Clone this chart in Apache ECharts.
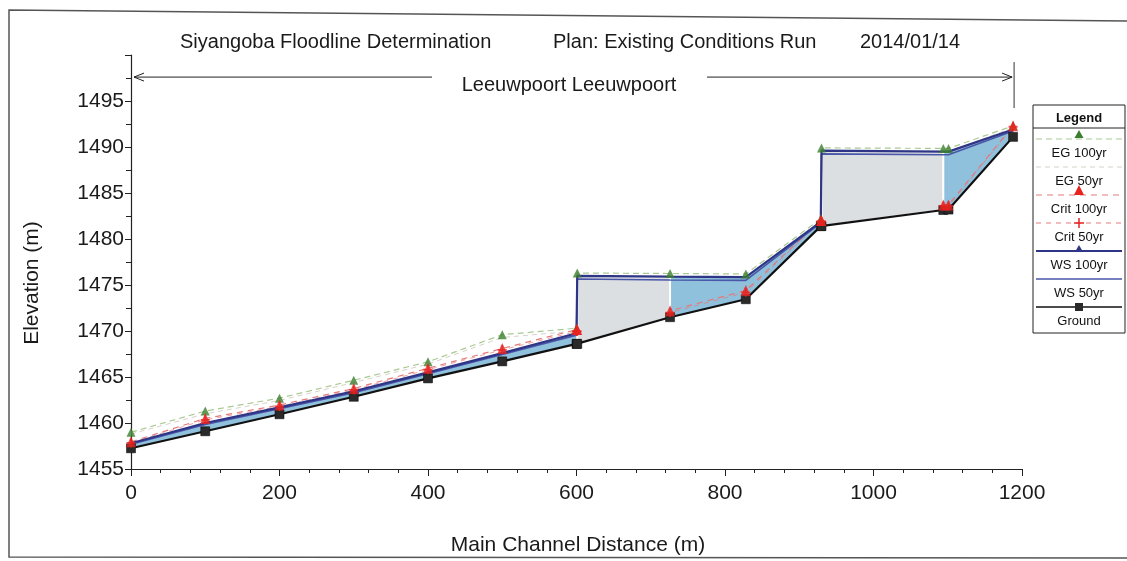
<!DOCTYPE html>
<html>
<head>
<meta charset="utf-8">
<script src="https://cdn.jsdelivr.net/npm/echarts@6/dist/echarts.min.js"></script>
<style>html,body{margin:0;padding:0;background:#fff;}#c{width:1127px;height:561px;}</style>
</head>
<body>
<div id="c"></div>
<script>
// ---- data (main channel distance in m, elevations in m) ----
const stations = [0, 100, 200, 300, 400, 500, 600, 601, 726, 828, 929, 930, 1094, 1101, 1188];
const ground   = [1457.25, 1459.1, 1460.95, 1462.85, 1464.85, 1466.7, 1468.6, 1468.6, 1471.5, 1473.45, 1481.4, 1481.4, 1483.15, 1483.2, 1491.1];
const ws100    = [1457.8, 1460.0, 1461.7, 1463.45, 1465.5, 1467.6, 1469.75, 1476.0, 1475.9, 1475.85, 1481.85, 1489.6, 1489.5, 1489.5, 1491.9];
const ws50     = [1457.7, 1459.85, 1461.55, 1463.3, 1465.35, 1467.45, 1469.55, 1475.65, 1475.55, 1475.5, 1481.75, 1489.25, 1489.15, 1489.15, 1491.75];
const eg100    = [1459.0, 1461.3, 1462.7, 1464.65, 1466.65, 1469.6, 1470.3, 1476.3, 1476.25, 1476.2, 1482.2, 1489.9, 1489.85, 1489.85, 1492.3];
const eg50     = [1458.8, 1461.0, 1462.45, 1464.4, 1466.4, 1469.3, 1470.0, 1475.95, 1475.9, 1475.85, 1482.0, 1489.55, 1489.5, 1489.5, 1492.1];
const crit100  = [1457.95, 1460.5, 1461.95, 1463.75, 1465.95, 1468.1, 1470.15, 1470.15, 1472.2, 1474.4, 1482.0, 1482.0, 1483.7, 1483.7, 1492.3];
const crit50   = [1457.85, 1460.35, 1461.8, 1463.6, 1465.8, 1467.95, 1469.95, 1469.95, 1472.0, 1474.2, 1481.9, 1481.9, 1483.6, 1483.6, 1492.2];
const structures = [[601, 726], [930, 1094]];   // station ranges of the structure (grey) reaches
const xTicks = [0, 200, 400, 600, 800, 1000, 1200];
const yTicks = [1455, 1460, 1465, 1470, 1475, 1480, 1485, 1490, 1495];
const legendNames = ['EG 100yr', 'EG 50yr', 'Crit 100yr', 'Crit 50yr', 'WS 100yr', 'WS 50yr', 'Ground'];
const reachName = 'Leeuwpoort Leeuwpoort';
const titleParts = ['Siyangoba Floodline Determination', 'Plan: Existing Conditions Run', '2014/01/14'];

// ---- styles ----
const FONT = 'Liberation Sans, Arial, sans-serif';
const C = {
  water: '#8fc0dc', struct: '#dcdfe1', ws: '#2f3586', ws50: '#4a56a8',
  ground: '#111', sq: '#2a2a2a', egG: '#3c7f2e', egLine: '#a9c993', eg50Line: '#d6d2c8',
  crit: '#e8231f', critLine: '#e37a7a'
};

const pairs = a => stations.map((s, i) => [s, a[i]]);
const segs = [];
for (let i = 0; i < stations.length - 1; i++) {
  segs.push([stations[i], ground[i], ws100[i], stations[i + 1], ground[i + 1], ws100[i + 1]]);
}
const inStruct = s => structures.some(r => s[0] >= r[0] && s[3] <= r[1]);
const structSegs = segs.filter(inStruct);

function polyRender(fill, stroke, lw) {
  return function (params, api) {
    const pts = [
      api.coord([api.value(0), api.value(1)]),
      api.coord([api.value(0), api.value(2)]),
      api.coord([api.value(3), api.value(5)]),
      api.coord([api.value(3), api.value(4)])
    ];
    return { type: 'polygon', shape: { points: pts }, style: { fill: fill, stroke: stroke, lineWidth: lw } };
  };
}

const chart = echarts.init(document.getElementById('c'), null, { renderer: 'canvas' });

const lineBase = { type: 'line', showSymbol: false, symbol: 'none', silent: true, animation: false };
const plusPath = 'path://M4,0L6,0L6,4L10,4L10,6L6,6L6,10L4,10L4,6L0,6L0,4L4,4Z';
const triPath = 'triangle';

const option = {
  animation: false,
  backgroundColor: '#fff',
  grid: { left: 131, right: 105, top: 55, bottom: 92, containLabel: false },
  xAxis: {
    type: 'value', min: xTicks[0], max: xTicks[xTicks.length - 1], interval: 200,
    axisLine: { show: true, lineStyle: { color: '#222', width: 1.2 } },
    axisTick: { show: true, length: 7, lineStyle: { color: '#222' } },
    minorTick: { show: true, splitNumber: 5, length: 4, lineStyle: { color: '#222' } },
    splitLine: { show: false },
    axisLabel: { fontFamily: FONT, fontSize: 21, color: '#1a1a1a', margin: 14,
      formatter: v => (xTicks.indexOf(v) >= 0 ? String(v) : '') }
  },
  yAxis: {
    type: 'value', min: 1455, max: 1500, interval: 5,
    axisLine: { show: true, lineStyle: { color: '#222', width: 1.2 } },
    axisTick: { show: true, length: 6, lineStyle: { color: '#222' } },
    minorTick: { show: true, splitNumber: 2, length: 5, lineStyle: { color: '#222' } },
    splitLine: { show: false },
    axisLabel: {
      fontFamily: FONT, fontSize: 21, color: '#1a1a1a', margin: 7,
      formatter: v => (yTicks.indexOf(v) >= 0 ? String(v) : '')
    }
  },
  series: [
    { type: 'custom', name: 'water', z: 1, silent: true, data: segs,
      encode: { x: [0, 3], y: [1, 2, 4, 5] }, renderItem: polyRender(C.water, C.water, 0.6) },
    Object.assign({}, lineBase, { name: 'EG 50yr', z: 2, data: pairs(eg50),
      lineStyle: { color: C.eg50Line, width: 1, type: [5, 4] } }),
    Object.assign({}, lineBase, { name: 'EG 100yr', z: 2, data: pairs(eg100),
      lineStyle: { color: C.egLine, width: 1.2, type: [6, 4] } }),
    Object.assign({}, lineBase, { name: 'Crit 50yr', z: 2, data: pairs(crit50),
      lineStyle: { color: C.critLine, width: 1, type: [5, 5], opacity: 0.7 } }),
    Object.assign({}, lineBase, { name: 'Crit 100yr', z: 2, data: pairs(crit100),
      lineStyle: { color: C.critLine, width: 1.2, type: [6, 5] } }),
    { type: 'custom', name: 'structure', z: 3, silent: true, data: structSegs,
      encode: { x: [0, 3], y: [1, 2, 4, 5] }, renderItem: polyRender(C.struct, '#ffffff', 2) },
    Object.assign({}, lineBase, { name: 'WS 50yr', z: 4, data: pairs(ws50),
      lineStyle: { color: C.ws50, width: 1.6 } }),
    Object.assign({}, lineBase, { name: 'WS 100yr', z: 4, data: pairs(ws100),
      lineStyle: { color: C.ws, width: 2.2 } }),
    { type: 'line', name: 'Ground', z: 5, data: pairs(ground), silent: true,
      symbol: 'rect', symbolSize: 9, showSymbol: true, showAllSymbol: true,
      itemStyle: { color: C.sq, borderColor: '#000', borderWidth: 0.5 },
      lineStyle: { color: C.ground, width: 2.2 } },
    { type: 'scatter', name: 'EG 100yr pts', z: 6, silent: true, data: pairs(eg100),
      symbol: triPath, symbolSize: [9, 9], itemStyle: { color: C.egG } },
    { type: 'scatter', name: 'Crit 50yr pts', z: 7, silent: true, data: pairs(crit50),
      symbol: plusPath, symbolSize: 9, itemStyle: { color: C.crit } },
    { type: 'scatter', name: 'Crit 100yr pts', z: 8, silent: true, data: pairs(crit100),
      symbol: triPath, symbolSize: [10, 11], itemStyle: { color: C.crit } }
  ]
};
chart.setOption(option);

// ---- decorations: page frame, titles, reach arrow, legend box ----
const g = [];
g.push({ type: 'polyline', silent: true, shape: { points: [[1127, 21], [9, 10], [9, 557], [1127, 558]] },
  style: { stroke: '#555', lineWidth: 1.5, fill: null } });
const titleX = [180, 553, 860];
titleParts.forEach((t, i) => g.push({ type: 'text', x: titleX[i], y: 42, silent: true,
  style: { text: t, fontFamily: FONT, fontSize: 20, fill: '#1a1a1a', verticalAlign: 'middle', align: 'left' } }));

const pL = chart.convertToPixel({ gridIndex: 0 }, [stations[0], 1497.6]);
const pR = chart.convertToPixel({ gridIndex: 0 }, [stations[stations.length - 1], 1497.6]);
const ay = pL[1];
const midX = (pL[0] + pR[0]) / 2 - 10;
const gapHalf = 130;
g.push({ type: 'line', silent: true, shape: { x1: pL[0] + 3, y1: ay, x2: midX - gapHalf, y2: ay }, style: { stroke: '#222', lineWidth: 1 } });
g.push({ type: 'line', silent: true, shape: { x1: midX + gapHalf + 15, y1: ay, x2: pR[0] - 1, y2: ay }, style: { stroke: '#222', lineWidth: 1 } });
g.push({ type: 'polyline', silent: true, shape: { points: [[pL[0] + 13, ay - 4], [pL[0] + 3, ay], [pL[0] + 13, ay + 4]] }, style: { stroke: '#222', lineWidth: 1, fill: null } });
g.push({ type: 'polyline', silent: true, shape: { points: [[pR[0] - 11, ay - 4], [pR[0] - 1, ay], [pR[0] - 11, ay + 4]] }, style: { stroke: '#222', lineWidth: 1, fill: null } });
g.push({ type: 'line', silent: true, shape: { x1: pR[0] + 1, y1: ay - 15, x2: pR[0] + 1, y2: ay + 31 }, style: { stroke: '#333', lineWidth: 1 } });
g.push({ type: 'text', x: midX + 7, y: ay + 8, silent: true,
  style: { text: reachName, fontFamily: FONT, fontSize: 20, fill: '#1a1a1a', align: 'center', verticalAlign: 'middle' } });

// axis titles
g.push({ type: 'text', x: 32, y: 283, rotation: Math.PI / 2, silent: true,
  style: { text: 'Elevation (m)', fontFamily: FONT, fontSize: 21, fill: '#1a1a1a', align: 'center', verticalAlign: 'middle' } });
g.push({ type: 'text', x: 578, y: 545, silent: true,
  style: { text: 'Main Channel Distance (m)', fontFamily: FONT, fontSize: 21, fill: '#1a1a1a', align: 'center', verticalAlign: 'middle' } });

// legend box
const LX = 1033, LY = 105, LW = 92, LH = 228, LC = LX + LW / 2;
g.push({ type: 'rect', silent: true, shape: { x: LX, y: LY, width: LW, height: LH }, style: { fill: '#fff', stroke: '#222', lineWidth: 1 } });
g.push({ type: 'text', x: LC, y: LY + 13, silent: true, style: { text: 'Legend', fontFamily: FONT, fontSize: 13, fontWeight: 'bold', fill: '#111', align: 'center', verticalAlign: 'middle' } });
g.push({ type: 'line', silent: true, shape: { x1: LX, y1: LY + 23, x2: LX + LW, y2: LY + 23 }, style: { stroke: '#222', lineWidth: 1 } });
const legStyles = [
  { stroke: C.egLine, dash: [6, 4], w: 1 },
  { stroke: C.eg50Line, dash: [5, 4], w: 1 },
  { stroke: C.critLine, dash: [6, 5], w: 1.2 },
  { stroke: C.critLine, dash: [5, 5], w: 1 },
  { stroke: C.ws, dash: null, w: 2 },
  { stroke: C.ws50, dash: null, w: 1.6 },
  { stroke: C.ground, dash: null, w: 1.6 }
];
legendNames.forEach((name, i) => {
  const y = LY + 34 + 28 * i;
  const s = legStyles[i];
  g.push({ type: 'line', silent: true, shape: { x1: LX + 3, y1: y, x2: LX + LW - 3, y2: y },
    style: { stroke: s.stroke, lineWidth: s.w, lineDash: s.dash } });
  if (i === 0) g.push({ type: 'polygon', silent: true, shape: { points: [[LC, y - 9], [LC - 4.5, y - 1], [LC + 4.5, y - 1]] }, style: { fill: C.egG } });
  if (i === 2) g.push({ type: 'polygon', silent: true, shape: { points: [[LC, y - 10], [LC - 5, y], [LC + 5, y]] }, style: { fill: C.crit } });
  if (i === 3) { g.push({ type: 'line', silent: true, shape: { x1: LC - 5, y1: y, x2: LC + 5, y2: y }, style: { stroke: C.crit, lineWidth: 1.5 } });
                 g.push({ type: 'line', silent: true, shape: { x1: LC, y1: y - 5, x2: LC, y2: y + 5 }, style: { stroke: C.crit, lineWidth: 1.5 } }); }
  if (i === 4) g.push({ type: 'polygon', silent: true, shape: { points: [[LC, y - 6], [LC - 3.5, y], [LC + 3.5, y]] }, style: { fill: C.ws } });
  if (i === 6) g.push({ type: 'rect', silent: true, shape: { x: LC - 4, y: y - 4, width: 8, height: 8 }, style: { fill: C.sq } });
  g.push({ type: 'text', x: LC, y: y + 14, silent: true,
    style: { text: name, fontFamily: FONT, fontSize: 13, fill: '#111', align: 'center', verticalAlign: 'middle' } });
});

chart.setOption({ graphic: { elements: g } });
</script>
</body>
</html>
